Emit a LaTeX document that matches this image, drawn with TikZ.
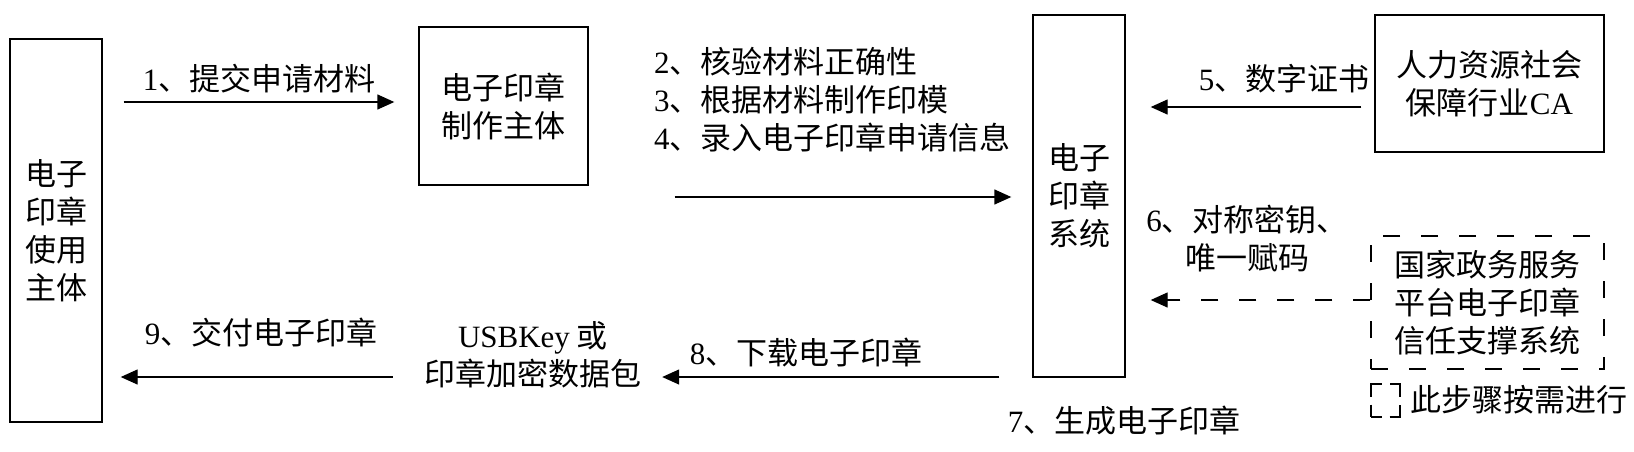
\documentclass[tikz,border=0pt]{standalone}
\usepackage{fontspec}
\setmainfont{Noto Sans CJK SC}
\newfontfamily\lat{Liberation Serif}
\usetikzlibrary{arrows.meta}
\tikzset{
  txt/.style={font=\fontsize{31}{38}\selectfont, inner sep=0pt, align=center, text=black},
  box/.style={txt, draw=black, line width=1.4pt},
  dbox/.style={box, dash pattern=on 17pt off 21pt},
  legbox/.style={draw=black, line width=1.4pt, inner sep=0pt, dash pattern=on 23pt off 8pt, dash phase=12.5pt},
  arr/.style={draw=black, line width=1.4pt, -{Triangle[length=17pt,width=15pt]}},
  darr/.style={arr, dash pattern=on 17pt off 21pt},
}
\begin{document}
\begin{tikzpicture}[x=1pt,y=-1pt]
\fill[white] (0,0) rectangle (1634,451);
\useasboundingbox (0,0) rectangle (1634,451);
% boxes
\node[box, minimum width=92pt, minimum height=383pt] (user) at (56,230.5) {电子\\印章\\使用\\主体};
\node[box, minimum width=169pt, minimum height=158pt] (maker) at (503.5,106) {电子印章\\制作主体};
\node[box, minimum width=92pt, minimum height=362pt] (sys) at (1079,196) {电子\\印章\\系统};
\node[box, minimum width=229pt, minimum height=137pt] (ca) at (1489.5,83.5) {人力资源社会\\保障行业{\lat CA}};
\node[dbox, minimum width=233pt, minimum height=133pt] (gov) at (1487.5,302.5) {国家政务服务\\平台电子印章\\信任支撑系统};
\node[txt, minimum width=220pt] (usb) at (533,355) {{\lat USBKey} 或\\印章加密数据包};
\node[legbox, minimum width=29pt, minimum height=33pt] (leg) at (1385.5,400.5) {};
\node[txt, anchor=west] (legt) at (1410,400) {此步骤按需进行};
% labels
\node[txt] (l1) at (259,78.5) {{\lat 1}、提交申请材料};
\node[txt, align=left, anchor=west] (l24) at (654,99.5) {{\lat 2}、核验材料正确性\\{\lat 3}、根据材料制作印模\\{\lat 4}、录入电子印章申请信息};
\node[txt] (l5) at (1284,79) {{\lat 5}、数字证书};
\node[txt] (l6) at (1247,239) {{\lat 6}、对称密钥、\\唯一赋码};
\node[txt] (l7) at (1124,421) {{\lat 7}、生成电子印章};
\node[txt] (l8) at (806,353) {{\lat 8}、下载电子印章};
\node[txt] (l9) at (261,332.5) {{\lat 9}、交付电子印章};
% connector rows
\coordinate (r1) at (0,102);
\coordinate (r2) at (0,197);
\coordinate (r5) at (0,107);
\coordinate (r6) at (0,300);
\coordinate (r8) at (0,377);
% arrows
\draw[arr, shorten <=21pt, shorten >=24pt] (user.east |- r1) -- (maker.west |- r1);
\draw[arr, shorten <=86pt, shorten >=21pt] (maker.east |- r2) -- (sys.west |- r2);
\draw[arr, shorten <=13pt, shorten >=25pt] (ca.west |- r5) -- (sys.east |- r5);
\draw[darr, shorten >=25pt] (gov.west |- r6) -- (sys.east |- r6);
\draw[arr, shorten <=33pt, shorten >=19pt] (sys.west |- r8) -- (usb.east |- r8);
\draw[arr, shorten <=30pt, shorten >=18pt] (usb.west |- r8) -- (user.east |- r8);
\end{tikzpicture}
\end{document}
